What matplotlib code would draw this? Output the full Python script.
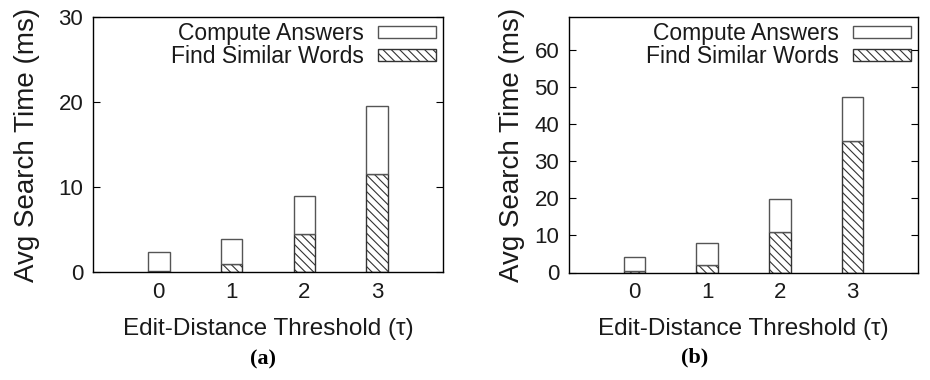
import numpy as np
import matplotlib
matplotlib.use('Agg')
import matplotlib.pyplot as plt

# data
thresholds = ['0', '1', '2', '3']
total_a = [2.4, 3.9, 8.9, 19.5]
similar_a = [0.1, 1.0, 4.5, 11.5]
total_b = [4.3, 7.9, 19.9, 47.4]
similar_b = [0.3, 1.9, 10.9, 35.5]

plt.rcParams['font.family'] = ['Liberation Sans', 'DejaVu Sans']
plt.rcParams['hatch.linewidth'] = 0.8
plt.rcParams['hatch.color'] = '#222222'

fig = plt.figure(figsize=(9.3, 3.8), dpi=100)


def draw_panel(ax, total, similar, ymax, yticks, ylabelpad):
    x = np.arange(len(thresholds))
    compute = np.array(total) - np.array(similar)
    ax.bar(x, similar, width=0.3, color='white', edgecolor='#333333',
           linewidth=1.0, hatch='\\\\\\\\', label='Find Similar Words', zorder=2)
    ax.bar(x, compute, width=0.3, bottom=similar, color='white', edgecolor='#555555',
           linewidth=1.0, label='Compute Answers', zorder=2)
    ax.set_xlim(-0.9, 3.9)
    ax.set_ylim(0, ymax)
    ax.set_xticks(x)
    ax.set_xticklabels(thresholds)
    ax.set_yticks(yticks)
    ax.tick_params(axis='x', length=0, pad=7, labelsize=16, labelcolor='#1a1a1a')
    ax.tick_params(axis='y', direction='in', right=True, length=5, pad=7, labelsize=16,
                   labelcolor='#1a1a1a')
    for s in ax.spines.values():
        s.set_linewidth(1.0)
    ax.set_xlabel('Edit-Distance Threshold (\u03c4)', fontsize=17.5, labelpad=11,
                  color='#1a1a1a')
    ax.set_ylabel('Avg Search Time (ms)', fontsize=20, labelpad=ylabelpad, color='#1a1a1a')
    h, l = ax.get_legend_handles_labels()
    ax.legend(h[::-1], l[::-1], loc='upper right', bbox_to_anchor=(1.012, 1.025),
              frameon=False, markerfirst=False,
              fontsize=16.5, handlelength=2.5, handleheight=0.4, labelspacing=0.0,
              borderaxespad=0.1, handletextpad=0.65, labelcolor='#1a1a1a')


ax1 = fig.add_axes([93 / 930, 108 / 380, 350 / 930, 255 / 380])
draw_panel(ax1, total_a, similar_a, 30, [0, 10, 20, 30], 13)

ax2 = fig.add_axes([569 / 930, 107.5 / 380, 349 / 930, 255.5 / 380])
draw_panel(ax2, total_b, similar_b, 69, [0, 10, 20, 30, 40, 50, 60], 7)

fig.text(263 / 930, 1 - 359 / 380, '(a)', ha='center', va='center', fontsize=16,
         fontweight='bold', family='Liberation Serif')
fig.text(695 / 930, 1 - 357 / 380, '(b)', ha='center', va='center', fontsize=16,
         fontweight='bold', family='Liberation Serif')

fig.savefig('out.png', dpi=100)
